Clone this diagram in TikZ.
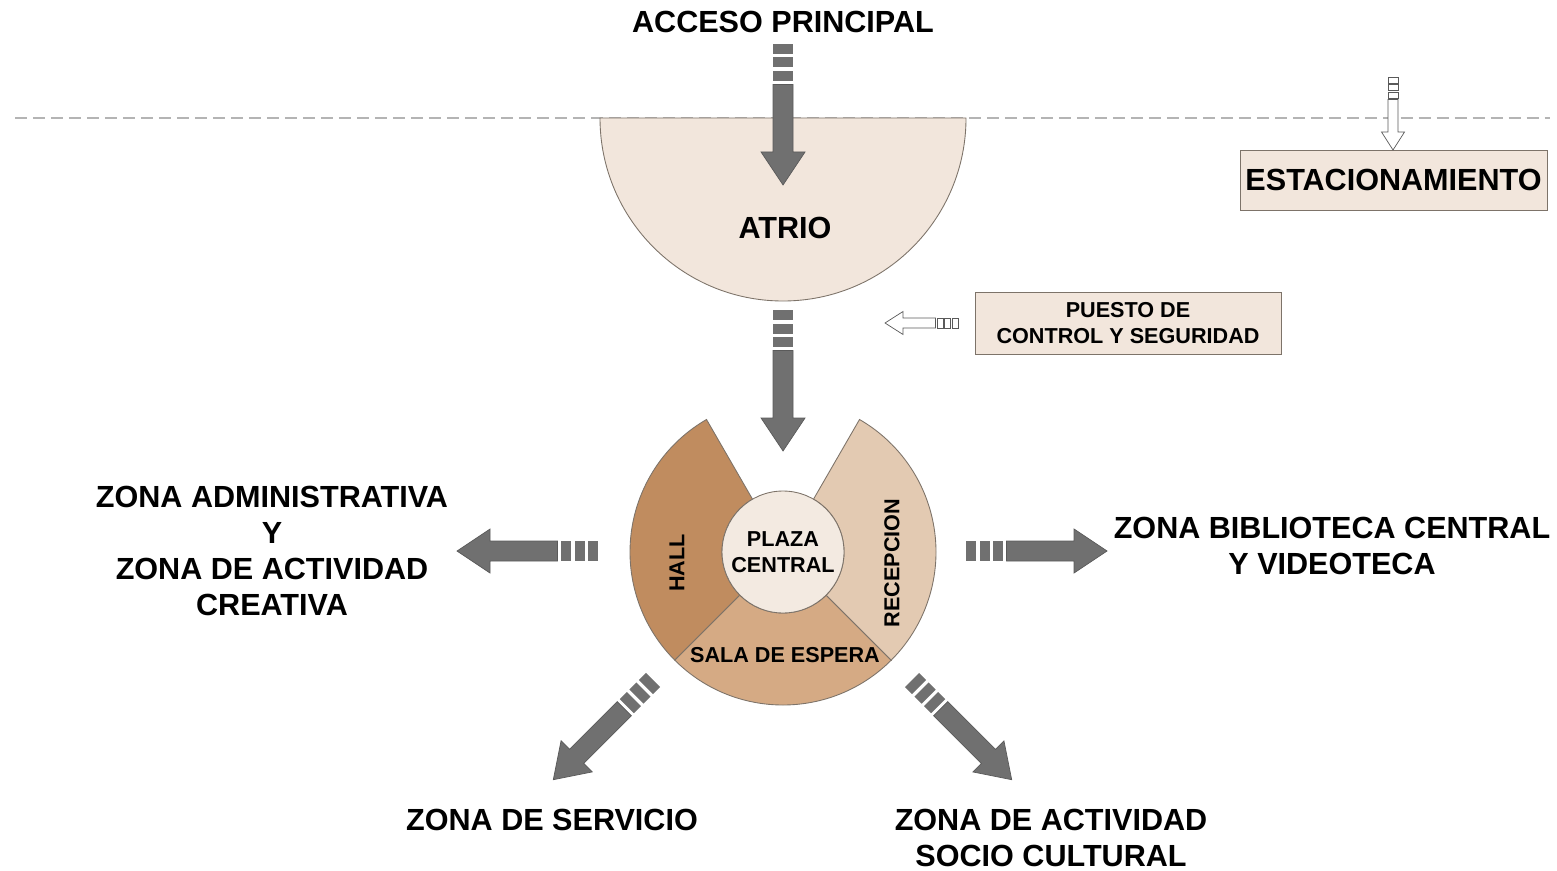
\documentclass[tikz,border=0pt]{standalone}
\usepackage{fontspec}
\setmainfont{Liberation Sans}
\definecolor{beige}{RGB}{242,230,220}
\definecolor{colhall}{RGB}{192,140,95}
\definecolor{colsala}{RGB}{213,170,132}
\definecolor{colrecep}{RGB}{227,202,178}
\definecolor{colplaza}{RGB}{243,234,225}
\definecolor{grisflecha}{RGB}{112,112,112}
\definecolor{grisborde}{RGB}{90,90,90}
\definecolor{lineacafe}{RGB}{125,115,105}
\definecolor{grislimite}{RGB}{180,180,180}
\usetikzlibrary{positioning}

\begin{document}
\begin{tikzpicture}[x=0.02cm, y=0.02cm,
    rotulo/.style={font=\fontsize{17.4}{20.5}\selectfont\bfseries, align=center, inner sep=0pt},
    rotulochico/.style={font=\fontsize{12.3}{14.8}\selectfont\bfseries, align=center, inner sep=0pt},
    sector/.style={draw=lineacafe, line width=0.5pt},
    caja/.style={rectangle, draw=lineacafe, fill=beige, line width=0.5pt, inner sep=0pt},
    flecha/.pic={
      \foreach \a in {0,13.5,27}
        \fill[grisflecha] (\a,-10) rectangle ++(10,20);
      \draw[grisborde, fill=grisflecha, line width=0.4pt] (40.5,-10) -- (108,-10) -- (108,-22)
        -- (141,0) -- (108,22) -- (108,10) -- (40.5,10) -- cycle;
    },
    flechahueca/.pic={
      \foreach \a in {0,7.5,15}
        \draw[grisborde, fill=white, line width=0.4pt] (\a,-5) rectangle ++(6,10);
      \draw[grisborde, fill=white, line width=0.4pt] (22.5,-5) -- (55,-5) -- (55,-11.5)
        -- (73,0) -- (55,11.5) -- (55,5) -- (22.5,5) -- cycle;
    }
  ]
  \useasboundingbox (0,0) rectangle (1557,870);

  % Limite del terreno
  \draw[grislimite, line width=0.85pt, dash pattern=on 0.24cm off 0.12cm] (15,752) -- (1550,752);

  % Atrio
  \draw[sector, fill=beige] (600,752) arc[start angle=180, end angle=360, radius=183] -- cycle;
  \node[rotulo] (atrio) at (785,642) {ATRIO};
  \node[rotulo] (acceso) at (783,848) {ACCESO PRINCIPAL};

  % Nucleo central
  \begin{scope}[shift={(783,318)}]
    \draw[sector, fill=colhall] (120:61) -- (120:153) arc[start angle=120, end angle=225, radius=153]
      -- (225:61) arc[start angle=225, end angle=120, radius=61] -- cycle;
    \draw[sector, fill=colsala] (225:61) -- (225:153) arc[start angle=225, end angle=315, radius=153]
      -- (315:61) arc[start angle=315, end angle=225, radius=61] -- cycle;
    \draw[sector, fill=colrecep] (-45:61) -- (-45:153) arc[start angle=-45, end angle=60, radius=153]
      -- (60:61) arc[start angle=60, end angle=-45, radius=61] -- cycle;
  \end{scope}
  \node[circle, sector, fill=colplaza, minimum size=2.44cm, rotulochico] (plaza) at (783,318) {PLAZA\\CENTRAL};
  \node[rotulochico, rotate=90] (hall) at (677,307) {HALL};
  \node[rotulochico, rotate=90] (recepcion) at (892,307) {RECEPCION};
  \node[rotulochico] (sala) at (785,215) {SALA DE ESPERA};

  % Cajas laterales
  \node[caja, minimum width=6.14cm, minimum height=1.2cm, rotulo] (estac) at (1393.5,690) {ESTACIONAMIENTO};
  \node[caja, minimum width=6.12cm, minimum height=1.24cm, rotulochico] (puesto) at (1128,547)
    {PUESTO DE\\CONTROL Y SEGURIDAD};

  % Zonas
  \node[rotulo] (zadmin) at (272,319) {ZONA ADMINISTRATIVA\\Y\\ZONA DE ACTIVIDAD\\CREATIVA};
  \node[rotulo] (zbiblio) at (1332,324) {ZONA BIBLIOTECA CENTRAL\\Y VIDEOTECA};
  \node[rotulo] (zserv) at (552,50) {ZONA DE SERVICIO};
  \node[rotulo] (zsocio) at (1051,32) {ZONA DE ACTIVIDAD\\SOCIO CULTURAL};

  % Flechas de circulacion
  \coordinate (f1) at (783,826);
  \coordinate (f2) at (783,560);
  \coordinate (f3) at (598,319);
  \coordinate (f4) at (966,319);
  \coordinate (f5) at (653,190);
  \coordinate (f6) at (912,190);
  \pic[rotate=-90] at (f1) {flecha};
  \pic[rotate=-90] at (f2) {flecha};
  \pic[rotate=180] at (f3) {flecha};
  \pic at (f4) {flecha};
  \pic[rotate=-135] at (f5) {flecha};
  \pic[rotate=-45] at (f6) {flecha};

  % Flechas secundarias
  \coordinate (h1) at (1393,793);
  \coordinate (h2) at (958,547);
  \pic[rotate=-90] at (h1) {flechahueca};
  \pic[rotate=180] at (h2) {flechahueca};
\end{tikzpicture}
\end{document}
